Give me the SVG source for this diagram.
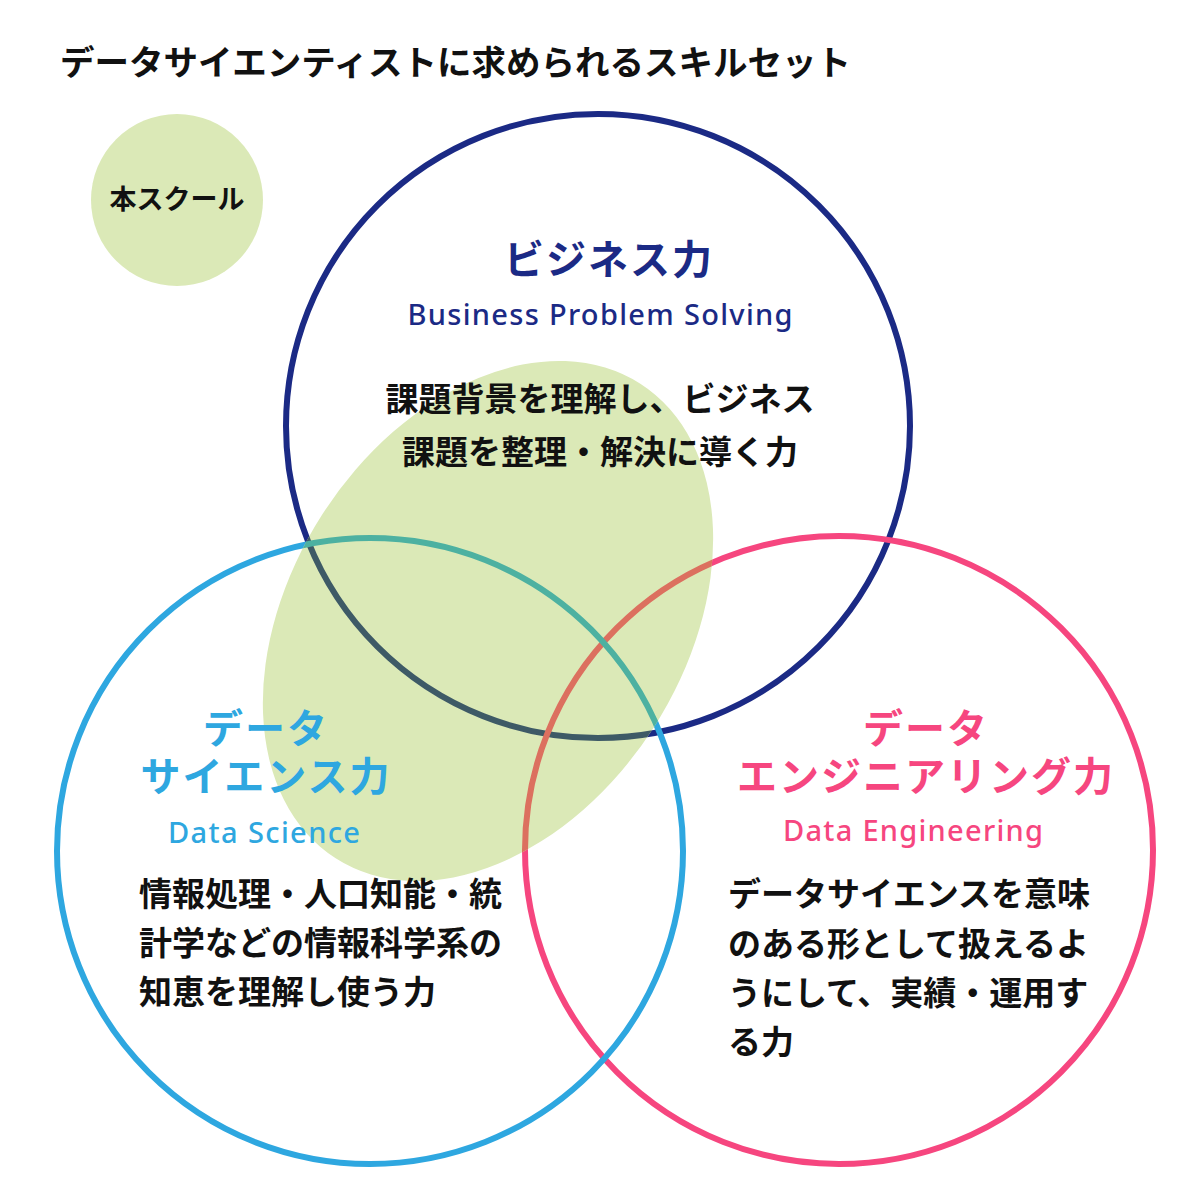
<svg xmlns="http://www.w3.org/2000/svg" width="1200" height="1200" viewBox="0 0 1200 1200">
  <defs>
    <style>
      .jp { font-family: "Noto Sans CJK JP", "Noto Sans", sans-serif; }
      .en { font-family: "Noto Sans", "Liberation Sans", sans-serif; font-weight: 500; }
      .title { font-size: 34.5px; font-weight: 700; fill: #111; }
      .head { font-size: 40px; font-weight: 700; letter-spacing: 2px; }
      .sub { font-size: 29px; }
      .body { font-size: 33px; font-weight: 700; fill: #111; }
      .ring { fill: none; stroke-width: 6; }
      .navy { fill: #1b2a85; }
      .sky { fill: #2ea7e0; }
      .pink { fill: #f6467f; }
    </style>
    <clipPath id="ellClip">
      <ellipse cx="488" cy="621" rx="282" ry="197" transform="rotate(-57.3 488 621)"/>
    </clipPath>
  </defs>

  <rect width="1200" height="1200" fill="#ffffff"/>

  <text class="jp title" x="60" y="75">データサイエンティストに求められるスキルセット</text>

  <g id="legend-school">
    <circle cx="177" cy="200" r="86" fill="#dbe9b7"/>
    <text class="jp" x="177" y="209" text-anchor="middle" font-size="27" font-weight="700" fill="#111">本スクール</text>
  </g>

  <g id="circles">
    <circle id="ring-business" class="ring" cx="598" cy="426" r="312" stroke="#1b2a85"/>
    <circle id="ring-engineering" class="ring" cx="839" cy="850" r="314" stroke="#f6467f"/>
    <circle id="ring-science" class="ring" cx="370" cy="851" r="313" stroke="#2ea7e0"/>
  </g>

  <g id="school-area">
    <ellipse cx="488" cy="621" rx="282" ry="197" transform="rotate(-57.3 488 621)" fill="#dbe9b7"/>
    <g clip-path="url(#ellClip)">
      <circle class="ring" cx="598" cy="426" r="312" stroke="#3e5a66"/>
      <circle class="ring" cx="839" cy="850" r="314" stroke="#dc705f"/>
      <circle class="ring" cx="370" cy="851" r="313" stroke="#4db1a1"/>
    </g>
  </g>

  <g id="connectors"/>

  <g id="node-business">
    <text class="jp head navy" x="609" y="274" text-anchor="middle">ビジネス力</text>
    <text class="en sub navy" x="600" y="325" text-anchor="middle" textLength="385" lengthAdjust="spacing">Business Problem Solving</text>
    <text class="jp body" x="600" y="411" text-anchor="middle">課題背景を理解し、ビジネス</text>
    <text class="jp body" x="600" y="464" text-anchor="middle">課題を整理・解決に導く力</text>
  </g>

  <g id="node-science">
    <text class="jp head sky" text-anchor="middle"><tspan x="266" y="743">データ</tspan><tspan x="266" y="791">サイエンス力</tspan></text>
    <text class="en sub sky" x="264" y="843" text-anchor="middle" textLength="192" lengthAdjust="spacing">Data Science</text>
    <text class="jp body" x="139" y="906">情報処理・人口知能・統</text>
    <text class="jp body" x="139" y="955">計学などの情報科学系の</text>
    <text class="jp body" x="139" y="1004">知恵を理解し使う力</text>
  </g>

  <g id="node-engineering">
    <text class="jp head pink" text-anchor="middle"><tspan x="926" y="743">データ</tspan><tspan x="926" y="791">エンジニアリング力</tspan></text>
    <text class="en sub pink" x="913" y="841" text-anchor="middle" textLength="260" lengthAdjust="spacing">Data Engineering</text>
    <text class="jp body" x="728" y="906">データサイエンスを意味</text>
    <text class="jp body" x="728" y="956">のある形として扱えるよ</text>
    <text class="jp body" x="728" y="1005">うにして、実績・運用す</text>
    <text class="jp body" x="728" y="1054">る力</text>
  </g>
</svg>
